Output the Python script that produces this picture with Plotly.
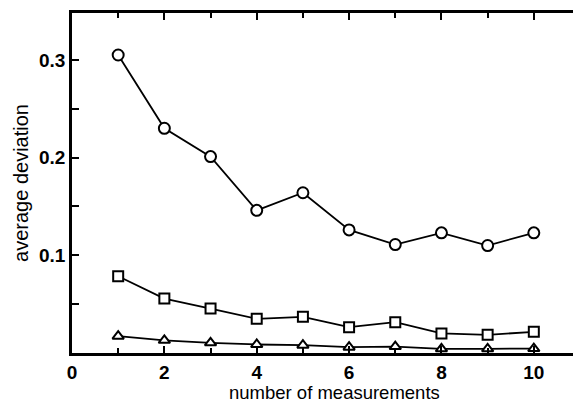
import plotly.graph_objects as go

x_vals = [1, 2, 3, 4, 5, 6, 7, 8, 9, 10]
circles = [0.305, 0.230, 0.201, 0.146, 0.164, 0.126, 0.111, 0.123, 0.110, 0.123]
squares = [0.0785, 0.0557, 0.0455, 0.035, 0.037, 0.0264, 0.0315, 0.020, 0.0186, 0.0217]
triangles = [0.0172, 0.013, 0.0104, 0.0087, 0.008, 0.006, 0.0066, 0.0043, 0.0043, 0.0045]

x_ticks = [0, 2, 4, 6, 8, 10]
y_ticks = [0.1, 0.2, 0.3]
y_tick_text = ["0.1", "0.2", "0.3"]
x_title = "number of measurements"
y_title = "average deviation"

# The page body has a default 8px margin; the figure is sized so the
# visible window (581x402) matches the reference layout.
OFF = 8

fig = go.Figure()
series = [(circles, "circle", 11), (squares, "square", 10), (triangles, "triangle-up", 10)]
for vals, sym, sz in series:
    fig.add_trace(go.Scatter(
        x=x_vals, y=vals, mode="lines+markers",
        line=dict(color="black", width=1.8),
        marker=dict(symbol=sym, size=sz, color="white", line=dict(width=2, color="black")),
        showlegend=False, cliponaxis=False,
    ))

family = "Liberation Sans, Arial, sans-serif"
fig.update_layout(
    width=581 - OFF, height=402 - OFF,
    margin=dict(l=72 - OFF, r=1, t=13 - OFF, b=48.5, autoexpand=False),
    paper_bgcolor="white", plot_bgcolor="white",
    font=dict(family=family, size=19, color="black"),
    xaxis=dict(
        range=[0, 11], tickvals=x_ticks, ticks="inside", ticklen=7, tickwidth=1.5,
        tickcolor="black", showline=True, linecolor="black", linewidth=2.5, mirror="ticks",
        showgrid=False, zeroline=False, automargin=False,
        minor=dict(dtick=1, ticks="inside", ticklen=5, tickcolor="black", showgrid=False),
        tickfont=dict(size=19, weight="bold"),
    ),
    yaxis=dict(
        range=[0, 0.348], tickvals=y_ticks, ticktext=y_tick_text, ticks="inside", ticklen=7,
        tickwidth=1.5, tickcolor="black", showline=True, linecolor="black", linewidth=2.5,
        mirror="ticks", showgrid=False, zeroline=False, automargin=False,
        minor=dict(tick0=0, dtick=0.05, ticks="inside", ticklen=7, tickcolor="black", showgrid=False),
        title=dict(text=y_title, standoff=6, font=dict(size=20)),
        tickfont=dict(size=19, weight="bold"),
    ),
    annotations=[dict(
        text=x_title, xref="paper", yref="paper", x=0.516, y=0,
        xanchor="center", yanchor="top", yshift=-29, showarrow=False,
        height=19, borderpad=0, font=dict(size=18.5),
    )],
)
fig.write_html("out.html")
